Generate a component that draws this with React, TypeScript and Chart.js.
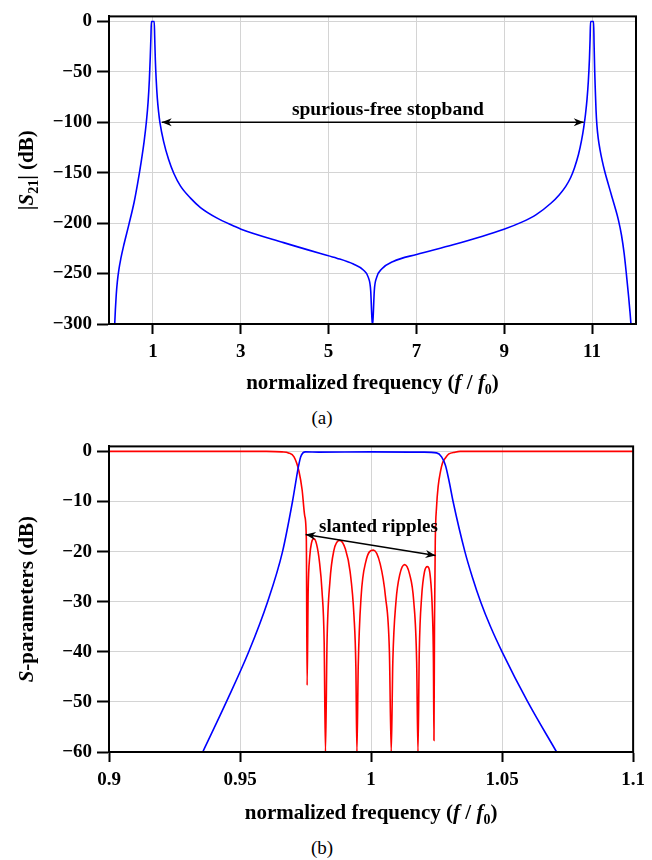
import React, { useEffect, useRef } from "react";
import { Chart, registerables } from "chart.js";

Chart.register(...registerables);

// ---------- Data (a): |S21| over wide band ----------
const topFreq = [
  0.13, 0.145, 0.165, 0.19, 0.225, 0.27, 0.33, 0.455, 0.573, 0.65, 0.73, 0.8, 0.85, 0.89, 0.92, 0.94, 0.955, 0.965,
  1.0,
  1.03, 1.04, 1.055, 1.075, 1.1, 1.13, 1.159, 1.243, 1.356, 1.477, 1.629, 1.856, 2.083, 2.462, 2.839, 3.007,
  3.975, 4.815, 5.187, 5.564, 5.791, 5.905, 5.959, 5.982, 5.995,
  6.005, 6.018, 6.041, 6.095, 6.209, 6.472, 7.004, 7.835, 8.993, 9.4, 9.728,
  10.069, 10.25, 10.4, 10.51, 10.6, 10.69, 10.76, 10.81, 10.85, 10.885, 10.915, 10.94, 10.955, 10.965,
  11.0,
  11.035, 11.045, 11.06, 11.075, 11.09, 11.11, 11.14, 11.18, 11.23, 11.29, 11.36, 11.44, 11.52, 11.6, 11.67,
  11.73, 11.78, 11.83, 11.865, 11.885,
];
const topS21 = [
  -300, -286, -271, -258, -246, -235, -223, -201, -179, -161, -140, -119, -100, -80, -57, -35, -15, 0,
  0,
  0, -15, -38, -58, -76, -90, -100, -118.9, -136.7, -150.8, -163.3, -175.2, -184.5, -195, -202.8, -206,
  -219.3, -230.1, -234.7, -240.6, -246.5, -253.8, -267, -290, -300,
  -300, -290, -267, -253.8, -245.5, -238, -231, -221.5, -206, -199, -191.5,
  -180, -172, -163.5, -155, -145, -132, -118, -105, -92, -77, -59, -37, -17, 0,
  0,
  0, -22, -50, -70, -88, -103, -116, -127, -138, -149, -160, -172, -184, -197, -212,
  -230, -250, -272, -289, -300,
];
const topXTicks = [1, 3, 5, 7, 9, 11];
const topYTicks = [-300, -250, -200, -150, -100, -50, 0];

// ---------- Data (b): S-parameters near f0 ----------
const s21Freq = [
  0.93577, 0.94478, 0.95332, 0.96053, 0.96622, 0.97002, 0.9723, 0.97313, 0.974, 0.975, 0.98, 1.0, 1.02, 1.025,
  1.0269, 1.0284, 1.0298, 1.0313, 1.0358, 1.0386, 1.0418, 1.0456, 1.05, 1.0598, 1.0708,
];
const s21Db = [
  -60, -50, -40, -30, -20, -10, -3, -1.1, -0.3, -0.1, -0.15, -0.1, -0.15, -0.3,
  -1.1, -2.8, -6, -10, -20, -25, -30, -35, -40, -50, -60,
];
const s11Freq = [
  0.9, 0.96, 0.966, 0.9685, 0.9706, 0.9725, 0.9737, 0.9747, 0.9753, 0.9756,
  0.976, 0.9766, 0.9773, 0.9782, 0.9792, 0.9803, 0.9813, 0.9821, 0.9826,
  0.9832, 0.9843, 0.9858, 0.988, 0.9902, 0.992, 0.9935, 0.9942, 0.9946,
  0.9951, 0.9962, 0.998, 1.0009, 1.0035, 1.0055, 1.007, 1.0077,
  1.0083, 1.0095, 1.011, 1.0128, 1.0147, 1.0163, 1.0174, 1.0179,
  1.0184, 1.0193, 1.0204, 1.0215, 1.0226, 1.0234, 1.0238, 1.024,
  1.0242, 1.0245, 1.025, 1.0256, 1.0265, 1.0272, 1.0285, 1.0297, 1.032, 1.034, 1.1,
];
const s11Db = [
  0, 0, -0.1, -0.3, -1.1, -4, -7.7, -12.9, -17.5, -46.7,
  -28, -21, -18.2, -17.4, -18.5, -22, -28, -38, -60,
  -38, -26, -19.8, -17.75, -19.5, -24, -33, -43, -60,
  -43, -29, -22, -19.7, -22.5, -29, -40, -60,
  -42, -30, -24.5, -22.6, -24.5, -30, -42, -60,
  -40, -29, -24, -23, -25, -32, -42, -57.7,
  -35, -18, -11, -7, -4, -2.4, -1.2, -0.5, -0.15, 0, 0,
];
const botXTicks = [0.9, 0.95, 1, 1.05, 1.1];
const botYTicks = [-60, -50, -40, -30, -20, -10, 0];

const FONT = '"Liberation Serif", "Times New Roman", serif';

type Seg = { t: string; i?: boolean; sub?: boolean };

function drawRich(ctx: CanvasRenderingContext2D, segs: Seg[], cx: number, cy: number, size: number, rotate: boolean) {
  ctx.save();
  ctx.translate(cx, cy);
  if (rotate) ctx.rotate(-Math.PI / 2);
  ctx.textBaseline = "alphabetic";
  ctx.fillStyle = "#000";
  const fontOf = (s: Seg) => `${s.i ? "italic " : ""}bold ${s.sub ? Math.round(size * 0.68) : size}px ${FONT}`;
  let total = 0;
  const widths = segs.map((s) => {
    ctx.font = fontOf(s);
    const w = ctx.measureText(s.t).width;
    total += w;
    return w;
  });
  let x = -total / 2;
  const base = size * 0.33;
  segs.forEach((s, k) => {
    ctx.font = fontOf(s);
    ctx.fillText(s.t, x, base + (s.sub ? size * 0.22 : 0));
    x += widths[k];
  });
  ctx.restore();
}

function drawArrowHead(ctx: CanvasRenderingContext2D, x: number, y: number, ang: number) {
  const L = 10, W = 4;
  ctx.save();
  ctx.translate(x, y);
  ctx.rotate(ang);
  ctx.beginPath();
  ctx.moveTo(0, 0);
  ctx.lineTo(-L, -W);
  ctx.lineTo(-L * 0.7, 0);
  ctx.lineTo(-L, W);
  ctx.closePath();
  ctx.fill();
  ctx.restore();
}

type Ann = {
  yLabel: Seg[];
  xLabel: Seg[];
  arrow: { x1: number; y1: number; x2: number; y2: number };
  text: { s: string; x: number; y: number; size: number };
};

function makePlugin(ann: Ann) {
  return {
    id: "deco",
    afterDraw(chart: any) {
      const ctx: CanvasRenderingContext2D = chart.ctx;
      const a = chart.chartArea;
      const xs = chart.scales.x;
      const ys = chart.scales.y;
      ctx.save();
      ctx.strokeStyle = "#000";
      ctx.lineWidth = 2;
      ctx.strokeRect(a.left, a.top, a.right - a.left, a.bottom - a.top);
      const p1 = { x: xs.getPixelForValue(ann.arrow.x1), y: ys.getPixelForValue(ann.arrow.y1) };
      const p2 = { x: xs.getPixelForValue(ann.arrow.x2), y: ys.getPixelForValue(ann.arrow.y2) };
      ctx.lineWidth = 1.5;
      ctx.fillStyle = "#000";
      ctx.beginPath();
      ctx.moveTo(p1.x, p1.y);
      ctx.lineTo(p2.x, p2.y);
      ctx.stroke();
      const ang = Math.atan2(p2.y - p1.y, p2.x - p1.x);
      drawArrowHead(ctx, p2.x, p2.y, ang);
      drawArrowHead(ctx, p1.x, p1.y, ang + Math.PI);
      ctx.font = `bold ${ann.text.size}px ${FONT}`;
      ctx.textAlign = "center";
      ctx.textBaseline = "middle";
      ctx.fillText(ann.text.s, xs.getPixelForValue(ann.text.x), ys.getPixelForValue(ann.text.y));
      ctx.textAlign = "left";
      drawRich(ctx, ann.xLabel, (a.left + a.right) / 2, 382, 21, false);
      drawRich(ctx, ann.yLabel, 26, (a.top + a.bottom) / 2, 21, true);
      ctx.restore();
    },
  };
}

function buildConfig(opts: {
  datasets: any[];
  xMin: number; xMax: number; yMin: number; yMax: number;
  xTicks: number[]; yTicks: number[];
  padTop: number; xAxisH: number;
  ann: Ann;
}) {
  const tickFont = { family: FONT, size: 19, weight: "bold" as const };
  const fmt = (v: any) => String(v).replace("-", "\u2212");
  return {
    type: "line" as const,
    data: { datasets: opts.datasets },
    options: {
      animation: false as const,
      responsive: false,
      maintainAspectRatio: false,
      layout: { padding: { top: opts.padTop, right: 16, left: 0, bottom: 0 } },
      plugins: { legend: { display: false }, tooltip: { enabled: false } },
      elements: { point: { radius: 0 } },
      scales: {
        x: {
          type: "linear" as const,
          min: opts.xMin,
          max: opts.xMax,
          afterBuildTicks: (s: any) => { s.ticks = opts.xTicks.map((v) => ({ value: v })); },
          afterFit: (s: any) => { s.height = opts.xAxisH; },
          grid: { color: "#d4d4d4", lineWidth: 1, tickLength: 10, tickColor: "#000", tickWidth: 2 },
          border: { color: "#000", width: 2 },
          ticks: { font: tickFont, color: "#000", padding: 7, maxRotation: 0, autoSkip: false, callback: fmt },
        },
        y: {
          type: "linear" as const,
          min: opts.yMin,
          max: opts.yMax,
          afterBuildTicks: (s: any) => { s.ticks = opts.yTicks.map((v) => ({ value: v })); },
          afterFit: (s: any) => { s.width = 109; },
          grid: { color: "#d4d4d4", lineWidth: 1, tickLength: 12, tickColor: "#000", tickWidth: 2 },
          border: { color: "#000", width: 2 },
          ticks: { font: tickFont, color: "#000", padding: 5, autoSkip: false, callback: fmt },
        },
      },
    },
    plugins: [makePlugin(opts.ann)],
  };
}

function ChartCanvas({ make, top }: { make: () => any; top: number }) {
  const ref = useRef<HTMLCanvasElement>(null);
  useEffect(() => {
    if (!ref.current) return;
    const chart = new Chart(ref.current, make());
    return () => chart.destroy();
  }, []);
  return (
    <canvas
      ref={ref}
      width={652}
      height={400}
      style={{ position: "absolute", left: 0, top, width: 652, height: 400 }}
    />
  );
}

const line = (xs: number[], ys: number[], color: string) => ({
  data: xs.map((x, k) => ({ x, y: ys[k] })),
  borderColor: color,
  borderWidth: 1.6,
  pointRadius: 0,
  fill: false,
  cubicInterpolationMode: "monotone",
});

export default function App() {
  const makeTop = () =>
    buildConfig({
      datasets: [line(topFreq, topS21, "#0000ff")],
      xMin: 0, xMax: 12, yMin: -300, yMax: 5,
      xTicks: topXTicks, yTicks: topYTicks,
      padTop: 14, xAxisH: 76,
      ann: {
        yLabel: [{ t: "|" }, { t: "S", i: true }, { t: "21", sub: true }, { t: "| (dB)" }],
        xLabel: [{ t: "normalized frequency (" }, { t: "f", i: true }, { t: " / " }, { t: "f", i: true }, { t: "0", sub: true }, { t: ")" }],
        arrow: { x1: 1.2, y1: -100, x2: 10.81, y2: -100 },
        text: { s: "spurious-free stopband", x: 6.35, y: -88, size: 19.5 },
      },
    });
  const makeBottom = () =>
    buildConfig({
      datasets: [line(s21Freq, s21Db, "#0000ff"), line(s11Freq, s11Db, "#ff0000")],
      xMin: 0.9, xMax: 1.1, yMin: -60, yMax: 1,
      xTicks: botXTicks, yTicks: botYTicks,
      padTop: 12, xAxisH: 78,
      ann: {
        yLabel: [{ t: "S", i: true }, { t: "-parameters (dB)" }],
        xLabel: [{ t: "normalized frequency (" }, { t: "f", i: true }, { t: " / " }, { t: "f", i: true }, { t: "0", sub: true }, { t: ")" }],
        arrow: { x1: 0.97503, y1: -16.57, x2: 1.02459, y2: -20.8 },
        text: { s: "slanted ripples", x: 1.0028, y: -15.2, size: 19 },
      },
    });
  const capStyle: React.CSSProperties = {
    position: "absolute",
    left: 0,
    width: 644,
    textAlign: "center",
    fontFamily: FONT,
    fontSize: 19,
    lineHeight: "20px",
    color: "#000",
  };
  return (
    <div style={{ position: "absolute", left: 0, top: 0, width: 652, height: 860, background: "#fff" }}>
      <ChartCanvas make={makeTop} top={0} />
      <div style={{ ...capStyle, top: 408 }}>(a)</div>
      <ChartCanvas make={makeBottom} top={430} />
      <div style={{ ...capStyle, top: 838 }}>(b)</div>
    </div>
  );
}
